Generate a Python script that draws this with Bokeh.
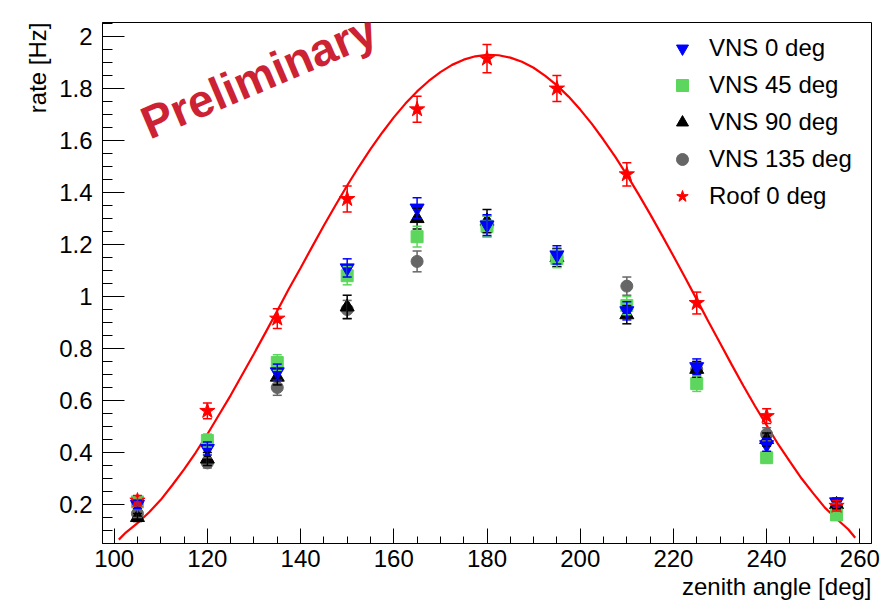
from bokeh.plotting import figure
from bokeh.models import (ColumnDataSource, Whisker, TeeHead, Label, Legend, LegendItem, Title,
                          SingleIntervalTicker, CustomJSTickFormatter, Range1d)
from bokeh.embed import file_html
from bokeh.resources import INLINE

# ---- data ----
angles = [105, 120, 135, 150, 165, 180, 195, 210, 225, 240, 255]

vns0 = [0.20, 0.415, 0.71, 1.11, 1.34, 1.275, 1.16, 0.945, 0.73, 0.43, 0.21]
vns0_err = [0.015, 0.025, 0.03, 0.035, 0.04, 0.04, 0.035, 0.035, 0.03, 0.025, 0.015]

vns45 = [0.21, 0.446, 0.746, 1.08, 1.23, 1.27, 1.146, 0.965, 0.665, 0.38, 0.16]
vns45_err = [0.015, 0.025, 0.03, 0.035, 0.04, 0.04, 0.035, 0.035, 0.03, 0.02, 0.015]

vns90 = [0.15, 0.375, 0.69, 0.96, 1.30, 1.29, 1.15, 0.93, 0.72, 0.45, 0.20]
vns90_err = [0.015, 0.025, 0.03, 0.045, 0.04, 0.045, 0.035, 0.035, 0.03, 0.025, 0.015]

vns135 = [0.165, 0.36, 0.65, 0.95, 1.135, 1.27, 1.15, 1.04, 0.72, 0.47, 0.19]
vns135_err = [0.015, 0.02, 0.03, 0.035, 0.04, 0.04, 0.035, 0.035, 0.03, 0.025, 0.015]

roof = [0.215, 0.56, 0.915, 1.375, 1.72, 1.915, 1.80, 1.47, 0.975, 0.54, 0.195]
roof_err = [0.02, 0.03, 0.038, 0.05, 0.05, 0.054, 0.05, 0.045, 0.042, 0.028, 0.02]

# fitted curve
fit_x = [101, 102.5, 105, 107.5, 110, 112.5, 115, 117.5, 120, 122.5, 125, 127.5, 130, 132.5,
         135, 137.5, 140, 142.5, 145, 147.5, 150, 152.5, 155, 157.5, 160, 162.5, 165, 167.5,
         170, 172.5, 175, 177.5, 180, 182.5, 185, 187.5, 190, 192.5, 195, 197.5, 200, 202.5,
         205, 207.5, 210, 212.5, 215, 217.5, 220, 222.5, 225, 227.5, 230, 232.5, 235, 237.5,
         240, 242.5, 245, 247.5, 250, 252.5, 255, 257.5, 259]
fit_y = [0.065, 0.092, 0.128, 0.17, 0.218, 0.275, 0.335, 0.40, 0.47, 0.545, 0.62, 0.70,
         0.78, 0.862, 0.945, 1.03, 1.11, 1.192, 1.273, 1.351, 1.427, 1.499, 1.567, 1.630,
         1.689, 1.742, 1.789, 1.829, 1.863, 1.891, 1.911, 1.924, 1.930, 1.928, 1.919, 1.903,
         1.880, 1.849, 1.812, 1.769, 1.719, 1.664, 1.603, 1.538, 1.468, 1.394, 1.317, 1.237,
         1.156, 1.073, 0.989, 0.904, 0.821, 0.738, 0.657, 0.579, 0.505, 0.431, 0.365, 0.300,
         0.243, 0.188, 0.145, 0.105, 0.072]

labels = ["VNS 0 deg", "VNS 45 deg", "VNS 90 deg", "VNS 135 deg", "Roof 0 deg"]

FONT = "Liberation Sans"

p = figure(width=895, height=607, x_range=Range1d(97.5, 262.5), y_range=Range1d(0.05, 2.054),
           output_backend="svg", toolbar_location=None,
           min_border_left=102, min_border_right=24, min_border_top=22, min_border_bottom=64)
p.xgrid.visible = False
p.ygrid.visible = False
p.outline_line_color = "black"
p.outline_line_width = 1
p.background_fill_color = "white"
p.border_fill_color = "white"

p.xaxis.ticker = SingleIntervalTicker(interval=20, num_minor_ticks=4)
p.yaxis.ticker = SingleIntervalTicker(interval=0.2, num_minor_ticks=4)
p.yaxis.formatter = CustomJSTickFormatter(code="return (Math.round(tick*10)/10).toString();")

for ax in (p.xaxis[0], p.yaxis[0]):
    ax.axis_line_color = "black"
    ax.major_tick_line_color = "black"
    ax.minor_tick_line_color = "black"
    ax.major_tick_out = 0
    ax.minor_tick_out = 0
    ax.major_label_text_font = FONT
    ax.major_label_text_font_size = "24px"
    ax.major_label_text_color = "black"
p.xaxis.major_tick_in = 15
p.xaxis.minor_tick_in = 7
p.xaxis.major_label_standoff = 6
p.yaxis.major_tick_in = 22
p.yaxis.minor_tick_in = 10
p.yaxis.major_label_standoff = 10

# axis titles, right-aligned as in the reference
p.add_layout(Title(text="zenith angle [deg]", align="right", text_font=FONT,
                   text_font_size="24px", text_font_style="normal", text_color="black",
                   standoff=3, offset=0), "below")
p.add_layout(Title(text="rate [Hz]", align="right", text_font=FONT,
                   text_font_size="24px", text_font_style="normal", text_color="black",
                   standoff=12, offset=0), "left")

# fit curve
p.line(fit_x, fit_y, line_color="#ff0000", line_width=2.2)

series = [
    # (values, errors, marker, color, size, label index)
    (vns135, vns135_err, "circle", "#666666", 12, 3),
    (vns90, vns90_err, "triangle", "#000000", 14, 2),
    (vns45, vns45_err, "square", "#5cd65c", 12, 1),
    (vns0, vns0_err, "inverted_triangle", "#0000ff", 14, 0),
    (roof, roof_err, "star", "#ff0000", 16, 4),
]

renderers = {}
for vals, errs, marker, color, size, li in series:
    src = ColumnDataSource(dict(x=angles, y=vals,
                                lo=[v - e for v, e in zip(vals, errs)],
                                hi=[v + e for v, e in zip(vals, errs)]))
    w = Whisker(source=src, base="x", lower="lo", upper="hi", line_color=color, line_width=1.5,
                upper_head=TeeHead(size=9, line_color=color, line_width=1.5),
                lower_head=TeeHead(size=9, line_color=color, line_width=1.5))
    w.level = "glyph"
    p.add_layout(w)
    r = p.scatter("x", "y", source=src, marker=marker, size=size,
                  fill_color=color, line_color=color)
    renderers[li] = r

legend = Legend(items=[LegendItem(label=labels[i], renderers=[renderers[i]]) for i in range(5)],
                location=(563, 332), orientation="vertical",
                glyph_width=34, glyph_height=30, label_height=30, spacing=7,
                label_standoff=10, padding=0, margin=0,
                label_text_font=FONT, label_text_font_size="24px", label_text_color="black",
                border_line_color=None, background_fill_alpha=0)
p.add_layout(legend)

p.add_layout(Label(x=106.3, y=1.66, text="Preliminary", angle=23, angle_units="deg",
                   text_font=FONT, text_font_size="46px", text_font_style="bold",
                   text_color="#cc2233", text_align="left", text_baseline="alphabetic"))

open("out.html", "w").write(file_html(p, INLINE))
